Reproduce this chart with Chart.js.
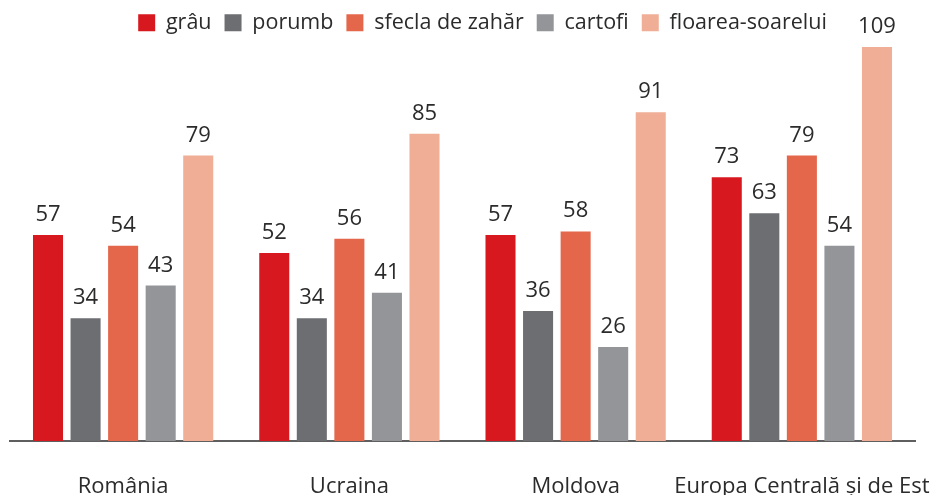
<!DOCTYPE html>
<html>
<head>
<meta charset="utf-8">
<script src="https://cdn.jsdelivr.net/npm/chart.js@4"></script>
<style>
  html, body { margin: 0; padding: 0; background: #fff; }
  #wrap { width: 932px; height: 495px; }
</style>
</head>
<body>
<div id="wrap"><canvas id="chart"></canvas></div>
<script>
const categories = ["România", "Ucraina", "Moldova", "Europa Centrală și de Est"];
const seriesNames = ["grâu", "porumb", "sfecla de zahăr", "cartofi", "floarea-soarelui"];
const grau = [57, 52, 57, 73];
const porumb = [34, 34, 36, 63];
const sfecla = [54, 56, 58, 79];
const cartofi = [43, 41, 26, 54];
const floarea = [79, 85, 91, 109];
const colors = ['#d7191f', '#6d6e72', '#e4674b', '#939598', '#f0ae96'];

const FONT = '"Open Sans", Lato, sans-serif';
const TEXT = '#2b2b2b';

// value labels above each bar
const valueLabels = {
  id: 'valueLabels',
  afterLayout(chart) {
    // legend sits a bit right of centre in the original
    chart.legend.left += 20;
    chart.legend.right += 20;
  },
  afterDatasetsDraw(chart) {
    const ctx = chart.ctx;
    ctx.save();
    ctx.font = '22px ' + FONT;
    ctx.fillStyle = TEXT;
    ctx.textAlign = 'center';
    ctx.textBaseline = 'alphabetic';
    chart.data.datasets.forEach((ds, i) => {
      chart.getDatasetMeta(i).data.forEach((bar, j) => {
        ctx.fillText(ds.data[j], bar.x, bar.y - 14);
      });
    });
    ctx.restore();
  }
};

new Chart(document.getElementById('chart'), {
  type: 'bar',
  data: {
    labels: categories,
    datasets: [grau, porumb, sfecla, cartofi, floarea].map((d, i) => ({
      label: seriesNames[i],
      data: d,
      backgroundColor: colors[i],
      barPercentage: 0.8,
      categoryPercentage: 0.83,
      clip: false
    }))
  },
  options: {
    responsive: true,
    maintainAspectRatio: false,
    animation: false,
    layout: { padding: { left: 10, right: 17, top: -1 } },
    plugins: {
      legend: {
        position: 'top',
        labels: {
          font: { family: FONT, size: 21.5 },
          color: TEXT,
          boxWidth: 17,
          boxHeight: 17,
          padding: 13
        }
      },
      tooltip: { enabled: false }
    },
    scales: {
      x: {
        grid: { display: false, drawTicks: false },
        border: { color: '#5f5f5f', width: 2 },
        ticks: {
          font: { family: FONT, size: 22 },
          color: TEXT,
          padding: 33,
          maxRotation: 0,
          autoSkip: false
        },
        afterFit(scale) {
          scale.height = 54;
          scale.paddingLeft = 0;
          scale.paddingRight = 0;
        }
      },
      y: {
        display: false,
        min: 0,
        max: 110
      }
    }
  },
  plugins: [valueLabels]
});
</script>
</body>
</html>
